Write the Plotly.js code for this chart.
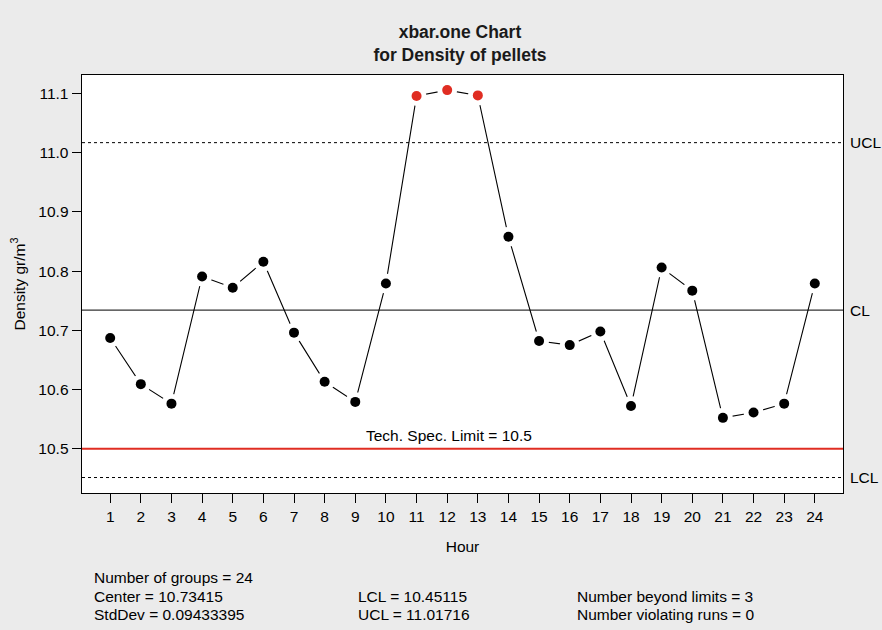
<!DOCTYPE html>
<html><head><meta charset="utf-8">
<script src="https://cdn.plot.ly/plotly-3.0.1.min.js"></script>
<style>html,body{margin:0;padding:0;background:#EBEBEB;}#chart{width:882px;height:630px;}</style>
</head><body><div id="chart"></div>
<script>
const hours = [1,2,3,4,5,6,7,8,9,10,11,12,13,14,15,16,17,18,19,20,21,22,23,24];
const density = [10.687,10.609,10.576,10.791,10.772,10.816,10.696,10.613,10.579,10.779,11.096,11.106,11.097,10.858,10.682,10.675,10.698,10.572,10.806,10.767,10.552,10.561,10.576,10.779];
const center = 10.73415;
const lcl = 10.45115;
const ucl = 11.01716;
const specLimit = 10.5;
const stdDev = 0.09433395;
const yTicks = [10.5,10.6,10.7,10.8,10.9,11.0,11.1];
const yTickText = ['10.5','10.6','10.7','10.8','10.9','11.0','11.1'];

const pointColors = density.map(v => (v > ucl || v < lcl) ? '#E02D22' : '#000000');
const beyond = density.filter(v => v > ucl || v < lcl).length;

const font = 'Liberation Sans, Arial, Helvetica, sans-serif';
const fs = 15.5;

const traces = [
  {x: hours, y: density, type: 'scatter', mode: 'lines', line: {color: '#000', width: 1.1}, showlegend: false},
  {x: hours, y: density, type: 'scatter', mode: 'markers', marker: {size: 20, color: '#FFFFFF'}, showlegend: false},
  {x: hours, y: density, type: 'scatter', mode: 'markers', marker: {size: 10, color: pointColors}, showlegend: false}
];

const shapes = [
  {type:'line', xref:'paper', x0:0, x1:1, y0:ucl, y1:ucl, line:{color:'#000', width:1, dash:'3px,3px'}, layer:'below'},
  {type:'line', xref:'paper', x0:0, x1:1, y0:lcl, y1:lcl, line:{color:'#000', width:1, dash:'3px,3px'}, layer:'below'},
  {type:'line', xref:'paper', x0:0, x1:1, y0:center, y1:center, line:{color:'#333', width:1.2}, layer:'below'},
  {type:'line', xref:'paper', x0:0, x1:1, y0:specLimit, y1:specLimit, line:{color:'#E02D22', width:2}, layer:'below'}
];

const txt = (x, y, t) => ({xref:'paper', yref:'paper', x, y, text:t, showarrow:false, xanchor:'left', yanchor:'middle', font:{family:font, size:fs, color:'#000'}});
const py = p => (493 - p) / 418;   // pixel y -> paper y
const px = p => (p - 82) / 761;    // pixel x -> paper x

const annotations = [
  {xref:'paper', x:px(848), y:ucl, text:'UCL', showarrow:false, xanchor:'left', font:{family:font, size:fs, color:'#000'}},
  {xref:'paper', x:px(848), y:center, text:'CL', showarrow:false, xanchor:'left', font:{family:font, size:fs, color:'#000'}},
  {xref:'paper', x:px(848), y:lcl, text:'LCL', showarrow:false, xanchor:'left', font:{family:font, size:fs, color:'#000'}},
  {x:12.05, y:specLimit, text:'Tech. Spec. Limit = ' + specLimit, showarrow:false, xanchor:'center', yanchor:'bottom', yshift:3, font:{family:font, size:fs, color:'#000'}},
  txt(px(92), py(577), 'Number of groups = ' + hours.length),
  txt(px(92), py(596), 'Center = ' + center),
  txt(px(92), py(614), 'StdDev = ' + stdDev),
  txt(px(356), py(596), 'LCL = ' + lcl),
  txt(px(356), py(614), 'UCL = ' + ucl),
  txt(px(575), py(596), 'Number beyond limits = ' + beyond),
  txt(px(575), py(614), 'Number violating runs = 0')
];

const layout = {
  width: 882, height: 630,
  paper_bgcolor: '#EBEBEB', plot_bgcolor: '#FFFFFF',
  margin: {l: 82, r: 39, t: 75, b: 137},
  font: {family: font, size: fs, color: '#000'},
  title: {text: '<b>xbar.one Chart<br>for Density of pellets</b>', x: 0.5215, xanchor: 'center', y: 0.94, yanchor: 'top', font: {family: font, size: 17.5, color: '#1a1a1a'}},
  xaxis: {
    range: [0.08, 24.92], tickvals: hours, ticktext: hours.map(String),
    showgrid: false, zeroline: false, showline: true, mirror: true, linecolor: '#000', linewidth: 1.4,
    ticks: 'outside', ticklen: 9, tickcolor: '#000', tickfont: {family: font, size: fs},
    title: {text: 'Hour', font: {family: font, size: fs}, standoff: 17}
  },
  yaxis: {
    range: [10.425, 11.1315], tickvals: yTicks, ticktext: yTickText,
    showgrid: false, zeroline: false, showline: true, mirror: true, linecolor: '#000', linewidth: 1.4,
    ticks: 'outside', ticklen: 9, tickcolor: '#000', tickfont: {family: font, size: fs},
    title: {text: 'Density gr/m<sup>3</sup>', font: {family: font, size: fs}, standoff: 9}
  },
  shapes, annotations, showlegend: false
};

Plotly.newPlot('chart', traces, layout, {displayModeBar: false, staticPlot: true});
</script></body></html>
